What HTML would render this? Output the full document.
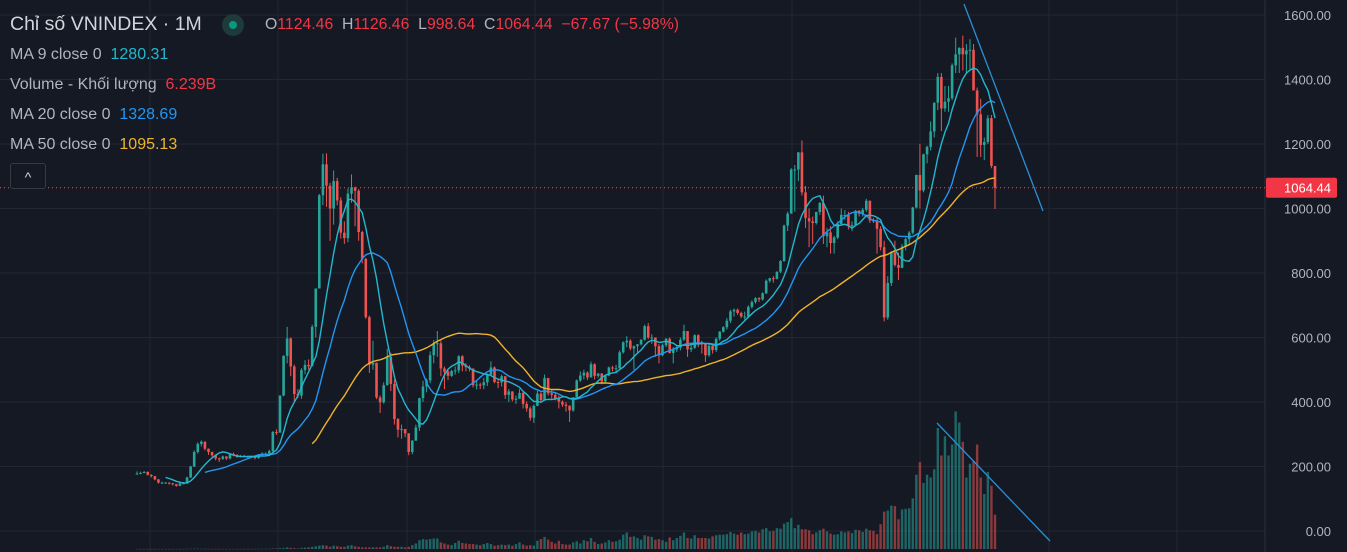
<!DOCTYPE html>
<html><head><meta charset="utf-8">
<style>
html,body{margin:0;padding:0;background:#151924;width:1347px;height:552px;overflow:hidden;font-family:"Liberation Sans","Noto Sans CJK SC",sans-serif;}
#wrap{position:relative;width:1347px;height:552px;}
svg{position:absolute;left:0;top:0;}
.lg{position:absolute;left:10px;font-size:16px;color:#b2b5be;white-space:nowrap;}
</style></head>
<body>
<div id="wrap">
<svg id="chart" width="1347" height="552"></svg>
<div class="lg" style="top:13px;font-size:19.5px;color:#d1d4dc">Chỉ số VNINDEX · 1M</div>
<div style="position:absolute;left:222px;top:14px;width:22px;height:22px;border-radius:11px;background:#1f3a3a"><div style="position:absolute;left:7px;top:7px;width:8px;height:8px;border-radius:4px;background:#089981"></div></div>
<div class="lg" style="left:265px;top:16px;font-size:15.8px">O<span style="color:#f23645">1124.46</span>&nbsp; H<span style="color:#f23645">1126.46</span>&nbsp; L<span style="color:#f23645">998.64</span>&nbsp; C<span style="color:#f23645">1064.44</span>&nbsp; <span style="color:#f23645">−67.67 (−5.98%)</span></div>
<div class="lg" style="top:46px">MA 9 close 0 &nbsp;<span style="color:#22b8cf">1280.31</span></div>
<div class="lg" style="top:76px">Volume - Khối lượng &nbsp;<span style="color:#f23645">6.239B</span></div>
<div class="lg" style="top:106px">MA 20 close 0 &nbsp;<span style="color:#2196f3">1328.69</span></div>
<div class="lg" style="top:136px">MA 50 close 0 &nbsp;<span style="color:#f0b429">1095.13</span></div>
<div style="position:absolute;left:10px;top:163px;width:34px;height:24px;border:1px solid #363a45;border-radius:3px;background:#151924;color:#d1d4dc;font-size:14px;text-align:center;line-height:26px">^</div>
</div>
<script>
const closes=[178,180,183,
174,170,160,150,150,150,148,145,140,148,148,166,
200,245,270,277,255,245,235,225,224,231,225,239,
236,230,233,232,229,230,226,237,238,240,248,307,
305,420,543,597,510,425,420,499,515,511,633,752,
1041,1137,1071,1000,1085,1025,925,908,1046,1065,1055,927,
844,663,516,522,414,399,452,540,456,347,314,316,
303,245,280,321,412,448,467,545,581,582,504,494,
481,496,498,542,513,508,504,452,454,452,461,485,
507,462,461,480,422,433,408,410,428,394,380,351,
388,426,406,474,427,422,410,401,392,388,374,414,
467,482,491,476,517,481,488,464,482,507,505,505,
554,585,590,566,573,579,593,635,600,600,573,545,
576,596,552,563,569,593,620,563,568,607,581,579,
545,574,561,596,618,632,652,681,686,676,665,665,
695,710,722,718,737,776,784,782,804,837,947,984,
1121,1121,1174,1050,970,960,955,989,1017,914,926,893,
910,952,980,980,945,949,993,984,996,1024,963,961,
937,880,662,769,864,825,816,882,905,925,1003,1104,
1056,1168,1191,1239,1328,1408,1310,1331,1342,1444,1478,1498,
1478,1490,1492,1366,1292,1197,1206,1280,1132,1064.44];
const highs=[185,184,186,
185,176,171,161,153,152,151,149,146,150,152,168,
202,250,275,281,278,256,246,236,228,234,232,241,
243,238,236,236,234,232,231,238,244,244,252,310,
315,421,545,633,600,516,440,505,530,532,640,752,
1045,1170,1171,1080,1118,1095,1035,960,1062,1106,1068,1060,
931,846,668,590,520,420,461,565,553,470,350,330,
316,303,282,330,413,466,473,557,592,620,590,510,
500,500,510,545,545,520,514,500,465,460,475,488,
526,510,470,485,478,440,433,420,440,432,402,386,
392,435,430,485,475,440,430,420,405,400,390,415,
470,495,500,495,525,520,490,490,485,510,512,515,
560,588,604,595,575,580,595,640,645,610,600,580,
580,598,600,570,575,600,640,620,575,610,610,590,
580,580,578,600,620,635,660,686,690,690,680,680,
700,715,725,725,740,780,785,790,805,840,950,990,
1125,1135,1175,1211,1070,1000,975,990,1020,1040,940,945,
915,960,1000,995,990,960,995,995,1002,1030,1025,970,
970,945,900,790,865,900,863,890,910,930,1005,1105,
1200,1170,1195,1270,1329,1420,1420,1380,1380,1450,1530,1500,
1536,1510,1525,1510,1375,1340,1220,1290,1290,1126.46];
const lows=[175,176,179,
172,166,157,147,146,147,144,141,137,139,145,146,
164,198,240,262,250,236,230,219,214,220,220,222,
232,227,228,229,225,226,222,224,233,234,238,245,
298,305,418,520,480,400,412,410,486,500,511,600,
752,1010,1005,900,950,1010,907,890,895,1018,945,900,
830,658,490,500,409,366,395,451,434,330,290,286,
291,235,238,280,310,400,430,458,520,540,480,440,
468,478,485,490,495,495,495,445,439,440,440,450,
482,458,443,448,410,400,402,394,410,380,370,342,
335,387,398,405,420,410,405,380,385,370,338,370,
413,462,470,468,476,470,475,455,460,480,495,490,
503,550,570,560,500,550,575,590,595,580,540,520,
542,570,550,520,555,560,590,540,555,565,570,550,
524,540,550,555,590,615,625,645,665,670,660,655,
660,690,705,710,715,735,770,770,780,800,835,930,
990,990,1085,1040,940,880,890,950,980,890,880,860,
860,905,950,965,935,930,945,975,975,990,955,955,
860,870,650,655,760,820,778,815,870,890,920,1000,
1000,1050,1140,1180,1220,1305,1240,1300,1300,1336,1420,1420,
1428,1420,1430,1368,1160,1160,1150,1200,1125,998.64];
const volumes=[0.02,0.02,0.02,
0.02,0.02,0.02,0.02,0.02,0.02,0.02,0.02,0.02,0.02,0.02,0.03,
0.05,0.06,0.06,0.05,0.04,0.04,0.03,0.03,0.03,0.03,0.03,0.03,
0.03,0.03,0.03,0.03,0.03,0.03,0.03,0.03,0.04,0.04,0.05,0.08,
0.1,0.15,0.2,0.3,0.2,0.15,0.1,0.2,0.25,0.3,0.4,0.5,
0.6,0.7,0.6,0.4,0.6,0.5,0.4,0.4,0.6,0.7,0.5,0.4,
0.3,0.3,0.3,0.3,0.3,0.3,0.4,0.7,0.5,0.4,0.4,0.4,
0.3,0.4,0.7,1.0,1.6,1.8,1.7,1.8,1.9,1.9,1.2,1.0,
0.8,0.7,1.1,1.5,1.1,1.0,0.9,0.9,0.8,0.7,0.9,1.1,
0.9,0.6,0.7,0.8,0.7,0.8,0.6,0.9,1.2,0.8,0.6,0.7,
0.6,1.5,1.8,2.2,1.7,1.3,1.0,1.5,0.9,0.8,0.8,1.2,
1.4,1.0,1.6,1.4,2.0,1.3,0.9,1.0,1.2,1.6,1.3,1.4,
1.7,2.6,3.0,2.2,2.3,2.0,1.7,2.5,2.3,2.2,1.7,1.8,
1.6,1.3,2.1,1.6,2.0,2.4,3.0,2.0,1.9,2.5,2.0,2.0,
2.0,1.9,2.3,2.5,2.6,2.6,2.7,3.1,2.8,2.6,3.0,2.7,
2.8,3.2,3.3,3.0,3.6,3.8,3.2,3.3,3.8,3.7,4.6,4.9,
5.6,3.8,4.4,3.6,3.6,3.4,2.7,3.0,3.4,3.7,3.2,2.8,
2.6,2.7,3.2,3.0,3.2,2.9,3.5,3.4,3.1,3.7,3.4,3.3,
2.7,4.5,6.8,7.0,7.9,7.8,5.4,7.2,7.3,7.4,9.2,13.5,
15.8,12.0,13.5,13.0,14.5,22.0,17.0,20.5,17.0,19.0,25.0,23.0,
19.5,13.0,15.5,16.0,19.0,13.0,10.0,14.0,11.5,6.239];
const priceTicks=[1600,1400,1200,1000,800,600,400,200,0];
const lastPrice=1064.44;
const firstOpen=178;

const NS='http://www.w3.org/2000/svg';
const svg=document.getElementById('chart');
const X0=137, STEP=3.575, PANE_R=1265;
function xOf(i){return X0+i*STEP;}
function yOf(v){return 531-v*0.3225;}
function vOf(v){return 549-v*5.5;}
function mk(tag,attrs,parent){const e=document.createElementNS(NS,tag);for(const k in attrs)e.setAttribute(k,attrs[k]);(parent||svg).appendChild(e);return e;}

const grid=mk('g',{});


[150,278,407,535,663,792,920,1049,1177].forEach(x=>{mk('line',{x1:x,y1:0,x2:x,y2:552,stroke:'#222631','stroke-width':1},grid);});
priceTicks.forEach(t=>{mk('line',{x1:0,y1:yOf(t),x2:PANE_R,y2:yOf(t),stroke:'#222631','stroke-width':1},grid);});
mk('line',{x1:PANE_R,y1:0,x2:PANE_R,y2:552,stroke:'#2a2e39','stroke-width':1},grid);

const axis=mk('g',{});


priceTicks.forEach(t=>{const tx=mk('text',{x:1331,y:yOf(t)+5,'text-anchor':'end',fill:'#b2b5be','font-size':13,'font-family':'Liberation Sans, sans-serif'},axis);tx.textContent=t.toFixed(2);});

const vg=mk('g',{});


closes.forEach((c,i)=>{const o=i?closes[i-1]:firstOpen;const up=c>=o;const y=vOf(volumes[i]);
const r=mk('rect',{x:xOf(i)-1.2,y:y,width:2.4,height:Math.max(549-y,0.5),fill:up?'rgba(38,166,154,0.55)':'rgba(239,83,80,0.55)'},vg);

});

const cg=mk('g',{});


closes.forEach((c,i)=>{const o=i?closes[i-1]:firstOpen;const up=c>=o;const col=up?'#26a69a':'#ef5350';const x=xOf(i);
mk('line',{x1:x,y1:yOf(highs[i]),x2:x,y2:yOf(lows[i]),stroke:col,'stroke-width':1},cg);
const t=yOf(Math.max(o,c)),b=yOf(Math.min(o,c));
const r=mk('rect',{x:x-1.3,y:t,width:2.6,height:Math.max(b-t,1),fill:col},cg);

});

function ma(n,color,name){let d='';for(let i=n-1;i<closes.length;i++){let s=0;for(let k=i-n+1;k<=i;k++)s+=closes[k];d+=(d?'L':'M')+xOf(i).toFixed(1)+','+yOf(s/n).toFixed(1);}
const p=mk('path',{d:d,fill:'none',stroke:color,'stroke-width':1.4});

}
ma(50,'#f0b429','ma50-line');
ma(20,'#2196f3','ma20-line');
ma(9,'#22b8cf','ma9-line');

const t1=mk('line',{x1:964,y1:4,x2:1043,y2:211,stroke:'#2a8fd6','stroke-width':1.3});


const t2=mk('line',{x1:937,y1:423,x2:1050,y2:541,stroke:'#2a8fd6','stroke-width':1.3});



const lp=mk('line',{x1:0,y1:yOf(lastPrice),x2:PANE_R,y2:yOf(lastPrice),stroke:'#ef5350','stroke-width':1,'stroke-dasharray':'1,3'});


const lb=mk('rect',{x:1266,y:yOf(lastPrice)-10,width:71,height:20,rx:2,fill:'#f23645'});


const lt=mk('text',{x:1331,y:yOf(lastPrice)+5,'text-anchor':'end',fill:'#ffffff','font-size':13,'font-family':'Liberation Sans, sans-serif'});
lt.textContent=lastPrice.toFixed(2);


</script>
</body></html>
